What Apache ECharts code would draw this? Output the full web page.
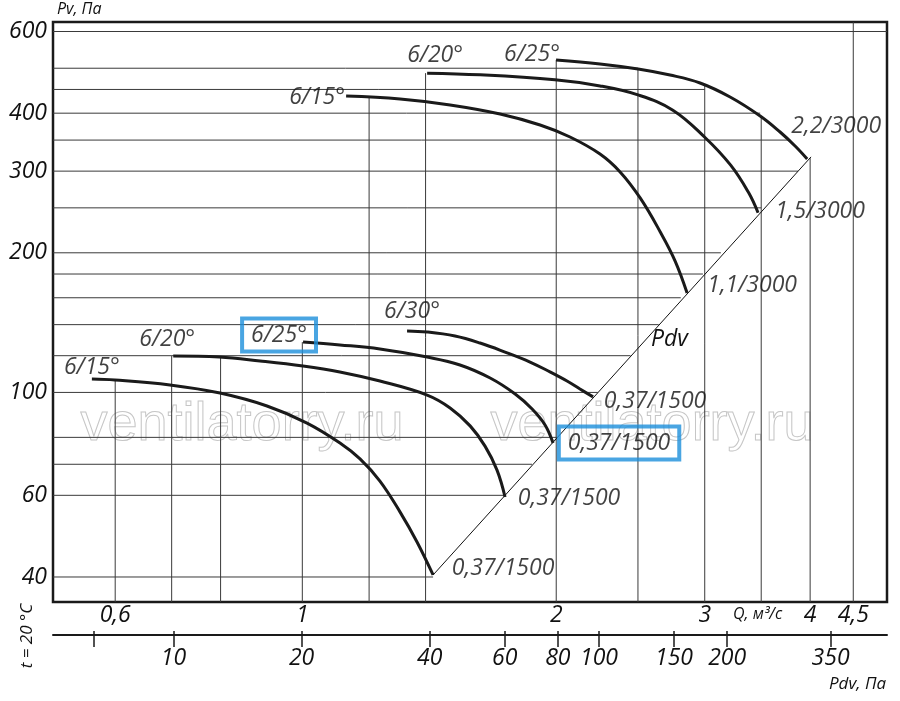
<!DOCTYPE html>
<html><head><meta charset="utf-8">
<script src="https://cdn.jsdelivr.net/npm/echarts@6/dist/echarts.min.js"></script>
<style>html,body{margin:0;padding:0;background:#fff}#c{width:900px;height:701px}</style>
</head><body><div id="c"></div><script>
// axis ranges (Q in m3/s, Pv in Pa, Pdv in Pa)
const qMin = 0.5063, qMax = 4.934, pMin = 35.33, pMax = 629;
const pdvMin = 5.21, pdvMax = 475;
const qLabels = [0.6, 1, 2, 3, 4, 4.5];
const pLabels = [40, 60, 100, 200, 300, 400, 600];
const pdvTicks = [6.5, 10, 20, 40, 60, 80, 100, 150, 200, 350];
const pdvLabels = [10, 20, 40, 60, 80, 100, 150, 200, 350];

// grid lines (clipped to the working area)
const vGridQ   = [0.6, 0.7, 0.8, 1, 1.2, 1.4, 2, 2.5, 3, 3.5, 4, 4.5];
const vGridTop = [106.4, 119.8, 119.2, 128.4, 432, 488, 521, 498, 458, 392, 320, 629];
const hGridP   = [40, 60, 70, 80, 100, 120, 140, 160, 180, 200, 250, 300, 350, 400, 450, 500, 600];
const hGridEnd = [1.429, 1.737, 1.872, 2.005, 2.24, 2.45, 2.646, 2.81, 2.985, 3.135, 3.5, 3.87, 3.79, 3.49, 3.0, 2.5, 4.934];

// curves, 3000 rpm
const up25Q = [1.999, 2.254, 2.501, 2.729, 2.962, 3.215, 3.490, 3.685, 3.839, 3.968];
const up25P = [521, 510.8, 498.2, 483.5, 464.7, 433.5, 394.5, 364.3, 339.9, 318.7];
const up20Q = [1.406, 1.625, 1.993, 2.254, 2.50, 2.75, 3.00, 3.22, 3.38, 3.47];
const up20P = [488, 484, 472, 458, 438, 406, 355, 309, 270, 244];
const up15Q = [1.127, 1.306, 1.497, 1.716, 1.914, 2.077, 2.254, 2.381, 2.515, 2.657, 2.767, 2.859];
const up15P = [435.6, 429.2, 416.7, 398.4, 377.2, 355.4, 326.6, 298.8, 262.6, 221.8, 192.0, 163.8];
// curves, 1500 rpm
const lo15Q = [0.563, 0.5995, 0.6967, 0.7988, 0.9081, 1.0129, 1.1083, 1.1706, 1.236, 1.306, 1.3677, 1.429];
const lo15P = [106.9, 106.4, 103.8, 99.7, 93.5, 85.9, 77.8, 71.9, 64.4, 55.2, 47.6, 40.4];
const lo20Q = [0.703, 0.797, 0.891, 1.002, 1.108, 1.236, 1.406, 1.497, 1.581, 1.6467, 1.7015, 1.7392];
const lo20P = [119.8, 119.2, 116.9, 114.0, 110.7, 105.8, 98.7, 92.6, 84.7, 76.6, 68.0, 59.5];
const lo25Q = [1.002, 1.108, 1.236, 1.406, 1.538, 1.670, 1.788, 1.8726, 1.9399, 1.9827];
const lo25P = [128.4, 126.6, 124.1, 119.2, 114.6, 107.4, 99.2, 92.1, 85.1, 77.8];
const lo30Q = [1.331, 1.406, 1.5173, 1.6245, 1.7392, 1.8621, 1.9664, 2.0598, 2.1341, 2.2116];
const lo30P = [135.7, 135.0, 132.3, 127.8, 122.2, 116.3, 110.7, 105.8, 101.7, 97.8];
// dynamic pressure line
const pdvLineQ = [1.429, 4.01];
const pdvLineP = [40.4, 322];

const curveNames  = ['6/25°', '6/20°', '6/15°', '6/15°', '6/20°', '6/25°', '6/30°'];
const curveMotors = ['2,2/3000', '1,5/3000', '1,1/3000', '0,37/1500', '0,37/1500', '0,37/1500', '0,37/1500'];
const curveQ = [up25Q, up20Q, up15Q, lo15Q, lo20Q, lo25Q, lo30Q];
const curveP = [up25P, up20P, up15P, lo15P, lo20P, lo25P, lo30P];

// label styling (pixel offsets from curve start / end)
const startOff = [[-24,-5],[8,-18],[-29,1],[0,-12],[-6,-17],[-24,-7],[5,-19]];
const endOff   = [[29,-32],[62,-1],[65,-8],[70,-7],[64,1],[66,0],[62,5]];
const boxed    = [false,false,false,false,false,true,false];

const FONT = 'Open Sans';
const INK = '#111';
const BLUE = '#1b8edb';
const zip = (qs, ps) => qs.map((q, i) => [q, ps[i]]);
const comma = v => String(v).replace('.', ',');

const series = [];
vGridQ.forEach((q, i) => series.push({
  type: 'line', data: [[q, pMin], [q, vGridTop[i]]], symbol: 'none', silent: true,
  lineStyle: { color: '#3a3a3a', width: 1 }, z: 1, animation: false
}));
hGridP.forEach((p, i) => series.push({
  type: 'line', data: [[qMin, p], [hGridEnd[i], p]], symbol: 'none', silent: true,
  lineStyle: { color: '#3a3a3a', width: 1 }, z: 1, animation: false
}));
series.push({
  type: 'line', data: zip(pdvLineQ, pdvLineP), symbol: 'none', silent: true,
  lineStyle: { color: INK, width: 1 }, z: 2, animation: false
});
curveQ.forEach((qs, i) => series.push({
  type: 'line', data: zip(qs, curveP[i]), symbol: 'none', smooth: 0.4, silent: true,
  lineStyle: { color: '#1a1a1a', width: 3 }, z: 3, animation: false
}));

const txt = { fontFamily: FONT, fontStyle: 'italic', fontSize: 23, color: INK };
const labelItems = [];
curveQ.forEach((qs, i) => {
  const ps = curveP[i];
  const boxStyle = boxed[i] ? { borderColor: BLUE, borderWidth: 4, padding: [5, 9] } : {};
  labelItems.push({ value: [qs[0], ps[0]],
    label: Object.assign({ show: true, position: 'inside', offset: startOff[i], formatter: curveNames[i] }, txt, boxStyle) });
  labelItems.push({ value: [qs[qs.length - 1], ps[ps.length - 1]],
    label: Object.assign({ show: true, position: 'inside', offset: endOff[i], formatter: curveMotors[i] }, txt, boxStyle) });
});
series.push({
  type: 'scatter', data: labelItems, symbolSize: 1, silent: true,
  itemStyle: { color: 'rgba(0,0,0,0)' }, z: 5, animation: false
});

const chart = echarts.init(document.getElementById('c'), null, { renderer: 'canvas' });
chart.setOption({
  animation: false,
  backgroundColor: '#fff',
  grid: { left: 53, right: 13, top: 22, bottom: 99, show: true, borderColor: '#1a1a1a', borderWidth: 2.5, backgroundColor: 'transparent' },
  xAxis: [
    { type: 'log', logBase: 10, min: qMin, max: qMax, position: 'bottom',
      axisLine: { show: false }, axisTick: { show: false }, splitLine: { show: false },
      axisLabel: { customValues: qLabels, formatter: comma, margin: 2, fontFamily: FONT, fontStyle: 'italic', fontSize: 23, color: INK } },
    { type: 'log', logBase: 10, min: pdvMin, max: pdvMax, position: 'bottom', offset: 33,
      axisLine: { show: true, onZero: false, lineStyle: { color: '#1a1a1a', width: 2 } },
      axisTick: { show: true, customValues: pdvTicks, length: 12, lineStyle: { color: '#1a1a1a', width: 1.5 } },
      splitLine: { show: false },
      axisLabel: { customValues: pdvLabels, formatter: comma, margin: 12, fontFamily: FONT, fontStyle: 'italic', fontSize: 23, color: INK } },
    { type: 'log', logBase: 10, min: pdvMin, max: pdvMax, position: 'bottom', offset: 33,
      axisLine: { show: false },
      axisTick: { show: true, inside: true, customValues: pdvTicks, length: 4, lineStyle: { color: '#1a1a1a', width: 1.5 } },
      splitLine: { show: false }, axisLabel: { show: false } }
  ],
  yAxis: { type: 'log', logBase: 10, min: pMin, max: pMax,
    axisLine: { show: false }, axisTick: { show: false }, splitLine: { show: false },
    axisLabel: { customValues: pLabels, margin: 6, fontFamily: FONT, fontStyle: 'italic', fontSize: 23, color: INK } },
  graphic: [
    { type: 'text', left: 57, top: 1, z: 10, style: { text: 'Pv, Па', fontFamily: FONT, fontStyle: 'italic', fontSize: 16, fill: INK } },
    { type: 'text', left: 733, top: 606, z: 10, style: { text: 'Q, м³/с', fontFamily: FONT, fontStyle: 'italic', fontSize: 16, fill: INK } },
    { type: 'text', left: 829, top: 676, z: 10, style: { text: 'Pdv, Па', fontFamily: FONT, fontStyle: 'italic', fontSize: 17, fill: INK } },
    { type: 'text', x: 27, y: 636, rotation: Math.PI / 2, z: 10, style: { text: 't = 20 °C', align: 'center', verticalAlign: 'middle', fontFamily: FONT, fontStyle: 'italic', fontSize: 17, fill: INK } },
    { type: 'text', left: 651, top: 328, z: 10, style: { text: 'Pdv', fontFamily: FONT, fontStyle: 'italic', fontSize: 23, fill: INK } },
    { type: 'text', left: 80, top: 398, z: 0, silent: true, style: { text: 'ventilatorry.ru', fontFamily: 'Liberation Sans', fontSize: 54, fill: 'rgba(0,0,0,0)', stroke: '#c6c6c6', lineWidth: 1 } },
    { type: 'text', left: 490, top: 398, z: 0, silent: true, style: { text: 'ventilatorry.ru', fontFamily: 'Liberation Sans', fontSize: 54, fill: 'rgba(0,0,0,0)', stroke: '#c6c6c6', lineWidth: 1 } }
  ],
  series: series
});
</script></body></html>
